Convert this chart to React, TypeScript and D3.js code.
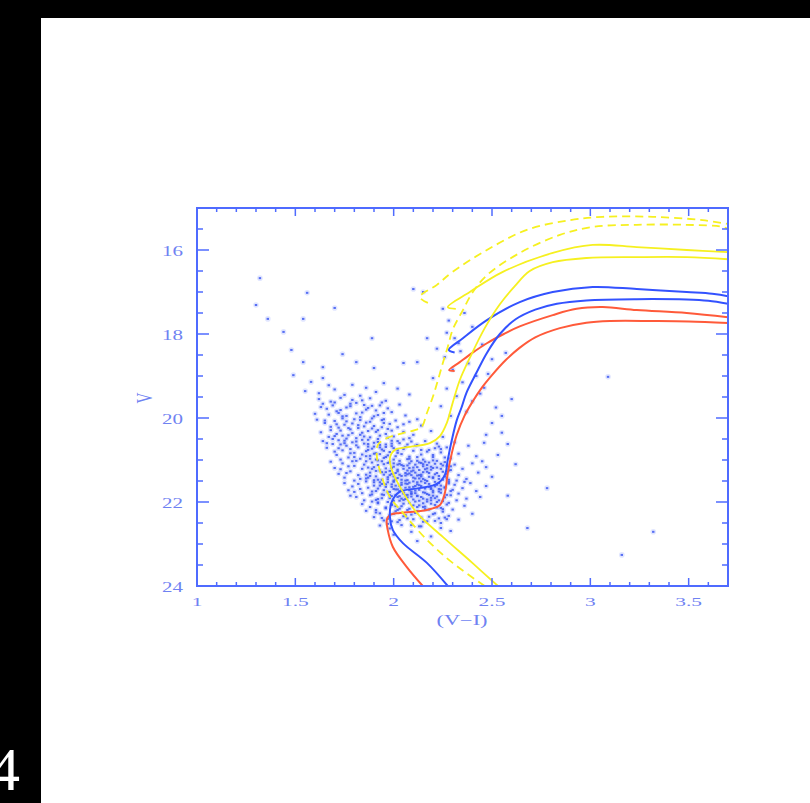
import React from "react";
import * as d3 from "d3";

type P = [number, number];

// ---- axis settings / tick labels ----
const X_DOMAIN: [number, number] = [1, 3.7];
const V_DOMAIN: [number, number] = [15, 24];
const X_LABELS = ["1", "1.5", "2", "2.5", "3", "3.5"];
const X_LABEL_VALUES = [1, 1.5, 2, 2.5, 3, 3.5];
const Y_LABELS = ["16", "18", "20", "22", "24"];
const Y_LABEL_VALUES = [16, 18, 20, 22, 24];
const X_TITLE = "(V\u2212I)";
const Y_TITLE = "V";

// ---- isochrones (V-I, V) ----
const redLower: P[] = [[2.148,24.0],[2.067,23.55],[1.996,23.07],[1.970,22.67],[1.965,22.43],[1.981,22.31],[2.032,22.26],[2.169,22.19],[2.235,22.07],[2.26,21.79],[2.275,21.31],[2.296,20.83],[2.321,20.40],[2.36,19.95],[2.40,19.62],[2.445,19.30],[2.50,18.98],[2.57,18.62],[2.64,18.33],[2.72,18.08],[2.845,17.86],[2.98,17.73],[3.10,17.69],[3.317,17.69],[3.50,17.70],[3.70,17.74]];
const redUpper: P[] = [[2.31,18.88],[2.282,18.86],[2.336,18.67],[2.40,18.45],[2.474,18.22],[2.56,18.0],[2.641,17.82],[2.809,17.55],[2.93,17.40],[3.063,17.36],[3.236,17.43],[3.49,17.50],[3.70,17.60]];
const blueLower: P[] = [[2.275,24.0],[2.169,23.45],[2.047,22.98],[1.996,22.67],[1.981,22.36],[1.99,22.0],[2.03,21.76],[2.13,21.67],[2.22,21.57],[2.26,21.36],[2.275,21.0],[2.296,20.52],[2.321,20.05],[2.345,19.75],[2.37,19.40],[2.42,18.93],[2.474,18.45],[2.54,18.0],[2.62,17.65],[2.72,17.42],[2.83,17.28],[2.98,17.20],[3.236,17.17],[3.49,17.18],[3.60,17.21],[3.70,17.28]];
const blueUpper: P[] = [[2.31,18.44],[2.28,18.38],[2.352,18.10],[2.474,17.67],[2.641,17.24],[2.809,17.0],[3.012,16.88],[3.236,16.93],[3.49,17.0],[3.62,17.04],[3.70,17.10]];
const yellowLower: P[] = [[2.53,24.0],[2.40,23.45],[2.25,22.83],[2.118,22.26],[2.032,21.64],[1.991,21.24],[1.981,20.95],[2.006,20.76],[2.082,20.69],[2.184,20.60],[2.235,20.43],[2.27,20.12],[2.30,19.64],[2.336,19.10],[2.387,18.57],[2.463,17.86],[2.54,17.29],[2.616,16.86],[2.692,16.50],[2.809,16.29],[2.98,16.19],[3.236,16.17],[3.49,16.17],[3.70,16.22]];
const yellowUpper: P[] = [[2.316,17.40],[2.275,17.36],[2.387,17.0],[2.555,16.52],[2.809,16.07],[3.012,15.88],[3.236,15.93],[3.49,16.0],[3.70,16.05]];
const yellowDashLower: P[] = [[2.463,24.0],[2.30,23.45],[2.169,22.90],[2.047,22.26],[1.981,21.88],[1.94,21.40],[1.915,20.93],[1.92,20.64],[1.965,20.48],[2.047,20.36],[2.108,20.29],[2.143,20.21],[2.169,19.88],[2.199,19.50],[2.225,19.10],[2.25,18.69],[2.275,18.31],[2.30,17.90],[2.352,17.43],[2.40,17.02],[2.474,16.60],[2.641,16.07],[2.845,15.64],[3.012,15.45],[3.236,15.40],[3.49,15.40],[3.673,15.45],[3.70,15.50]];
const yellowDashUpper: P[] = [[2.174,17.26],[2.133,17.12],[2.22,16.83],[2.30,16.52],[2.474,16.0],[2.677,15.52],[2.895,15.29],[3.063,15.21],[3.317,15.21],[3.571,15.29],[3.70,15.38]];

// ---- photometry (V-I, V) ----
const fieldStars: P[] = [[1.32,16.67],[1.56,17.02],[1.30,17.31],[1.36,17.64],[1.54,17.64],[1.70,17.38],[1.44,17.95],[1.89,18.10],[1.48,18.38],[1.74,18.48],[1.54,18.67],[1.81,18.67],[2.05,18.69],[1.90,18.81],[1.49,18.98],[1.64,18.79],[2.10,16.93],[2.12,18.67],[2.17,18.10],[2.15,17.00],[2.78,21.67],[2.68,22.62],[3.16,23.26],[3.32,22.71],[3.09,19.02],[2.62,21.10],[2.58,21.85],[2.53,20.88]];
const giantStars: P[] = [[2.28,17.68],[2.27,17.97],[2.36,17.50],[2.40,17.83],[2.31,18.10],[2.45,18.25],[2.34,18.41],[2.26,18.55],[2.38,18.70],[2.50,18.60],[2.30,18.85],[2.42,19.00],[2.35,19.15],[2.27,19.30],[2.46,19.28],[2.32,19.48],[2.40,19.60],[2.24,19.72],[2.37,19.85],[2.29,19.95],[2.52,19.75],[2.44,19.42],[2.20,19.05],[2.55,19.95],[2.33,18.22],[2.48,18.95],[2.22,18.35],[2.60,19.55],[2.25,17.40],[2.57,18.45],[2.55,20.35],[2.50,20.12],[2.58,20.62],[2.47,20.40]];
const bandV19: P[] = [[1.64,19.05],[1.58,19.14],[1.79,19.21],[1.95,19.17],[1.70,19.32],[1.86,19.28],[1.62,19.41],[1.75,19.45],[1.91,19.38],[2.02,19.30],[1.67,19.22],[1.83,19.47],[1.55,19.36],[2.08,19.44],[1.62,19.55],[1.68,19.61],[1.73,19.52],[1.78,19.66],[1.84,19.58],[1.89,19.71],[1.94,19.63],[1.66,19.78],[1.71,19.84],[1.76,19.75],[1.81,19.89],[1.86,19.80],[1.92,19.93],[1.97,19.77],[1.60,19.90],[1.74,19.96],[1.69,19.70],[1.83,19.98],[1.88,19.53],[1.99,19.86],[2.03,19.68],[1.79,19.57],[1.64,19.66],[1.91,19.82],[1.72,19.88],[1.85,19.69],[2.06,19.94],[1.96,19.59]];
const bandV20: P[] = [[1.61,20.04],[1.65,20.12],[1.68,20.21],[1.70,20.07],[1.73,20.30],[1.75,20.16],[1.77,20.41],[1.80,20.03],[1.82,20.24],[1.84,20.35],[1.86,20.11],[1.88,20.46],[1.90,20.19],[1.92,20.29],[1.94,20.05],[1.96,20.38],[1.98,20.14],[2.00,20.44],[2.02,20.22],[2.05,20.33],[2.08,20.09],[1.63,20.34],[1.67,20.45],[1.71,20.38],[1.74,20.01],[1.78,20.27],[1.81,20.48],[1.85,20.20],[1.89,20.01],[1.93,20.42],[1.97,20.26],[2.01,20.06],[2.10,20.40],[2.14,20.18],[1.79,20.13],[1.83,20.40],[1.87,20.31],[1.72,20.23],[1.76,20.49],[1.95,20.12],[2.19,20.31],[2.25,20.45],[2.12,20.03],
[1.64,20.55],[1.66,20.71],[1.69,20.62],[1.71,20.88],[1.72,20.53],[1.74,20.77],[1.76,20.66],[1.77,20.94],[1.79,20.58],[1.80,20.83],[1.82,20.70],[1.83,20.97],[1.85,20.61],[1.86,20.79],[1.87,20.52],[1.88,20.90],[1.90,20.68],[1.91,20.84],[1.92,20.57],[1.94,20.75],[1.95,20.95],[1.96,20.63],[1.98,20.81],[1.99,20.54],[2.00,20.72],[2.01,20.91],[2.03,20.60],[2.04,20.86],[2.06,20.69],[2.07,20.98],[2.09,20.56],[2.10,20.78],[1.73,20.99],[1.78,20.74],[1.81,20.56],[1.84,20.87],[1.89,20.73],[1.93,20.64],[1.97,20.89],[2.02,20.77],[2.05,20.51],[2.08,20.92],[1.70,20.80],[1.75,20.60],[1.87,20.68],[1.91,20.99],[1.99,20.67],[2.12,20.64],[2.14,20.87],[2.16,20.55],[2.18,20.76],[2.20,20.93],[2.22,20.61],[2.24,20.82],[2.27,20.70],[2.29,20.96],[2.31,20.58],[2.33,20.85],[2.15,20.99],[2.21,20.72],[2.38,20.66],[2.42,20.91],[2.46,20.59]];
const bandV21: P[] = [[1.68,21.04],[1.70,21.19],[1.72,21.33],[1.74,21.08],[1.75,21.42],[1.77,21.15],[1.78,21.27],[1.80,21.49],[1.81,21.02],[1.82,21.36],[1.84,21.21],[1.85,21.11],[1.86,21.44],[1.88,21.30],[1.89,21.06],[1.90,21.17],[1.91,21.39],[1.93,21.25],[1.94,21.47],[1.95,21.10],[1.76,21.31],[1.79,21.03],[1.83,21.45],[1.87,21.18],[1.92,21.01],[1.73,21.22],[1.86,21.35],[1.90,21.48],[1.94,21.29],[1.80,21.14],
[1.96,21.20],[1.97,21.41],[1.98,21.05],[1.99,21.33],[2.00,21.16],[2.01,21.46],[2.02,21.27],[2.03,21.09],[2.04,21.38],[2.05,21.21],[2.06,21.49],[2.07,21.13],[2.08,21.32],[2.09,21.03],[2.10,21.25],[2.11,21.44],[2.12,21.17],[2.13,21.36],[2.14,21.07],[2.15,21.29],[2.16,21.48],[2.17,21.12],[2.18,21.40],[2.19,21.23],[2.20,21.01],[2.21,21.34],[2.22,21.18],[2.23,21.45],[2.24,21.09],[2.25,21.28],[2.26,21.39],[2.27,21.14],[2.28,21.47],[2.29,21.24],[1.98,21.26],[2.00,21.39],[2.02,21.11],[2.04,21.47],[2.06,21.31],[2.08,21.19],[2.10,21.42],[2.12,21.02],[2.14,21.35],[2.16,21.22],[2.18,21.06],[2.20,21.43],[2.03,21.35],[2.07,21.25],[2.11,21.30],[2.15,21.15],
[2.31,21.11],[2.33,21.36],[2.35,21.21],[2.37,21.45],[2.40,21.08],[2.43,21.30],[2.47,21.17],[2.50,21.40],[2.32,21.49],[2.45,21.03]];
const bandV22: P[] = [[1.75,21.55],[1.77,21.72],[1.79,21.63],[1.81,21.88],[1.82,21.57],[1.84,21.79],[1.85,21.96],[1.87,21.66],[1.88,21.84],[1.90,21.53],[1.91,21.74],[1.92,21.93],[1.93,21.61],[1.94,21.82],[1.83,21.69],[1.86,21.51],[1.89,21.99],[1.78,21.85],[1.92,21.68],[1.80,21.76],
[1.96,21.58],[1.97,21.77],[1.98,21.91],[1.99,21.64],[2.00,21.52],[2.01,21.83],[2.02,21.70],[2.03,21.97],[2.04,21.59],[2.05,21.80],[2.06,21.66],[2.07,21.89],[2.08,21.54],[2.09,21.75],[2.10,21.94],[2.11,21.62],[2.12,21.85],[2.13,21.71],[2.14,21.51],[2.15,21.92],[2.16,21.68],[2.17,21.81],[2.18,21.57],[2.19,21.96],[2.20,21.73],[2.21,21.63],[2.22,21.87],[2.23,21.55],[2.24,21.78],[2.25,21.98],[2.26,21.65],[2.27,21.83],[2.28,21.52],[2.29,21.74],[1.97,21.53],[1.99,21.86],[2.01,21.61],[2.03,21.74],[2.05,21.95],[2.07,21.57],[2.09,21.87],[2.11,21.79],[2.13,21.60],[2.15,21.77],[2.17,21.99],[2.19,21.66],[2.21,21.91],[2.23,21.69],[2.00,21.69],[2.06,21.84],[2.12,21.53],[2.18,21.83],[2.24,21.61],[2.02,21.88],[2.08,21.72],
[2.31,21.59],[2.33,21.80],[2.35,21.67],[2.37,21.92],[2.39,21.55],[2.42,21.74],[2.44,21.88],[2.47,21.62],[2.32,21.96],[2.36,21.52]];
const bandV23: P[] = [[1.84,22.05],[1.86,22.21],[1.88,22.12],[1.90,22.36],[1.92,22.03],[1.93,22.27],[1.95,22.44],[1.96,22.15],[1.98,22.31],[1.99,22.07],[2.01,22.22],[2.02,22.48],[2.04,22.10],[2.05,22.34],[2.07,22.19],[2.08,22.02],[2.10,22.41],[2.11,22.26],[2.13,22.08],[2.14,22.37],[2.16,22.17],[2.17,22.46],[2.19,22.04],[2.20,22.29],[2.22,22.13],[2.23,22.39],[2.25,22.23],[2.27,22.06],[2.28,22.33],[2.30,22.18],[2.33,22.42],[2.36,22.09],[2.40,22.28],[1.91,22.19],[1.97,22.40],[2.03,22.16],[2.09,22.30],[2.15,22.12],[2.21,22.45],[2.26,22.37],
[1.93,22.56],[1.98,22.63],[2.04,22.55],[2.09,22.71],[2.14,22.58],[2.19,22.82],[2.24,22.62],[2.00,22.78],[2.29,22.69],[2.12,22.93]];
const coreStars: P[] = [[1.87,20.62],[1.93,20.70],[1.99,20.61],[2.05,20.74],[2.11,20.66],[2.17,20.80],[2.23,20.68],[1.90,20.85],[1.96,20.93],[2.02,20.83],[2.08,20.97],[2.14,20.76],[2.20,20.88],[2.26,20.94],[1.88,20.97],[2.00,20.99],[2.12,20.93],[2.24,20.74],[1.95,20.78],[2.07,20.63],
[1.86,21.03],[1.89,21.21],[1.92,21.12],[1.95,21.35],[1.97,21.07],[1.99,21.19],[2.01,21.31],[2.03,21.02],[2.05,21.14],[2.06,21.37],[2.08,21.08],[2.09,21.27],[2.11,21.11],[2.13,21.24],[2.14,21.39],[2.16,21.04],[2.17,21.28],[2.19,21.16],[2.21,21.09],[2.22,21.31],[2.24,21.21],[2.26,21.05],[2.27,21.33],[2.29,21.15],[1.88,21.38],[1.91,21.26],[1.94,21.03],[1.98,21.36],[2.02,21.23],[2.04,21.12],[2.07,21.34],[2.10,21.18],[2.12,21.37],[2.15,21.10],[2.18,21.31],[2.20,21.19],[2.23,21.38],[2.25,21.13],[2.28,21.25],[1.96,21.29],[2.00,21.08],[2.09,21.36],[2.13,21.06],[2.17,21.20],[2.22,21.02],
[1.87,21.42],[1.90,21.61],[1.93,21.53],[1.95,21.72],[1.97,21.46],[1.99,21.58],[2.01,21.70],[2.02,21.43],[2.04,21.54],[2.05,21.77],[2.07,21.48],[2.08,21.65],[2.10,21.51],[2.11,21.73],[2.13,21.44],[2.14,21.62],[2.16,21.78],[2.17,21.50],[2.19,21.69],[2.20,21.41],[2.22,21.59],[2.23,21.75],[2.25,21.47],[2.26,21.66],[2.28,21.56],[2.30,21.71],[1.89,21.75],[1.92,21.47],[1.96,21.64],[2.00,21.49],[2.03,21.62],[2.06,21.56],[2.09,21.79],[2.12,21.58],[2.15,21.45],[2.18,21.64],[2.21,21.52],[2.24,21.70],[2.27,21.43],[1.94,21.57],[1.98,21.76],[2.04,21.71],[2.10,21.64],[2.16,21.55],[2.20,21.77],
[1.89,21.82],[1.92,22.01],[1.94,21.91],[1.96,22.13],[1.98,21.84],[2.00,21.97],[2.01,22.10],[2.03,21.86],[2.05,22.04],[2.06,21.93],[2.08,22.16],[2.09,21.81],[2.11,21.99],[2.12,22.12],[2.14,21.88],[2.15,22.03],[2.17,21.94],[2.18,22.18],[2.20,21.85],[2.21,22.07],[2.23,21.96],[2.24,22.14],[2.26,21.89],[2.28,22.02],[2.29,21.84],[1.91,21.95],[1.95,21.83],[1.99,22.06],[2.02,22.19],[2.07,21.83],[2.10,22.08],[2.13,21.97],[2.16,22.11],[2.19,21.90],[2.22,22.00],[2.25,22.17],[1.97,22.00],[2.04,21.92],[2.12,21.86],
[1.91,22.25],[1.94,22.38],[1.97,22.52],[2.00,22.28],[2.03,22.43],[2.06,22.31],[2.09,22.55],[2.12,22.22],[2.15,22.47],[2.18,22.35],[2.21,22.27],[2.24,22.50],[2.27,22.41],[1.99,22.46],[2.07,22.39],[2.13,22.58]];
const plumeStars: P[] = [[1.63,19.74],[1.67,19.92],[1.70,19.63],[1.73,19.81],[1.76,19.95],[1.78,19.72],[1.81,19.64],[1.84,19.87],[1.87,19.76],[1.90,19.96],[1.93,19.70],[1.95,19.88],[1.65,20.06],[1.68,20.29],[1.71,20.15],[1.74,20.42],[1.76,20.08],[1.79,20.36],[1.82,20.17],[1.85,20.44],[1.88,20.09],[1.91,20.33],[1.94,20.22],[1.97,20.47],[1.66,20.60],[1.69,20.50],[1.72,20.72],[1.75,20.54],[1.78,20.84],[1.81,20.65],[1.84,20.52],[1.87,20.76],[1.90,20.59],[1.93,20.86],[1.96,20.69],[1.73,20.63],[1.80,20.93],[1.86,20.91],[1.70,20.43],[1.77,20.24],[1.83,20.05],[1.89,20.25],[1.92,20.50],[1.95,20.03],[1.99,20.30],[2.02,20.55],[2.05,20.15],[2.08,20.48]];

const AXIS = "#4f6bff";
const TEXT = "#6f82f2";
const FONT = "'Liberation Serif', 'Times New Roman', serif";

export default function App() {
  const x = d3.scaleLinear().domain(X_DOMAIN).range([197, 728]);
  const y = d3.scaleLinear().domain(V_DOMAIN).range([208, 586]);
  const line = d3
    .line<P>()
    .x((d) => x(d[0]))
    .y((d) => y(d[1]))
    .curve(d3.curveCatmullRom.alpha(0.5));

  const stars = [...fieldStars, ...giantStars, ...bandV19, ...bandV20, ...bandV21, ...bandV22, ...bandV23, ...coreStars, ...plumeStars];

  const xTicks = d3.range(11, 37).map((i) => ({ v: i / 10, major: i % 5 === 0 }));
  const yTicks = d3.range(31, 48).map((i) => ({ v: i / 2, major: i % 4 === 0 }));

  const [x0, x1] = x.range();
  const [y0, y1] = y.range();

  const curves: { d: P[]; c: string; w: number; dash?: string }[] = [
    { d: redLower, c: "#ff5a3a", w: 2 },
    { d: redUpper, c: "#ff5a3a", w: 2 },
    { d: blueLower, c: "#3352ff", w: 2 },
    { d: blueUpper, c: "#3352ff", w: 2 },
    { d: yellowLower, c: "#f6f020", w: 1.8 },
    { d: yellowUpper, c: "#f6f020", w: 1.8 },
    { d: yellowDashLower, c: "#f6f020", w: 1.8, dash: "8 5" },
    { d: yellowDashUpper, c: "#f6f020", w: 1.8, dash: "8 5" },
  ];

  return (
    <svg
      width={810}
      height={803}
      style={{ position: "fixed", left: 0, top: 0, display: "block" }}
    >
      <rect x={0} y={0} width={810} height={803} fill="#000" />
      <rect x={41} y={18} width={769} height={785} fill="#fff" />
      <text x={-11} y={790} fontSize={62} fill="#fff" fontFamily={FONT}>4</text>

      <defs>
        <clipPath id="plotClip">
          <rect x={x0} y={y0} width={x1 - x0} height={y1 - y0} />
        </clipPath>
      </defs>

      <g>
        {stars.map((s, i) => (
          <circle key={"h" + i} cx={x(s[0])} cy={y(s[1])} r={2.8} fill="#b4c0ff" opacity={0.4} />
        ))}
        {stars.map((s, i) => (
          <rect key={"s" + i} x={x(s[0]) - 1.2} y={y(s[1]) - 1} width={2.4} height={2} fill="#3d58f2" opacity={0.85} />
        ))}
      </g>

      <g clipPath="url(#plotClip)">
        {curves.map((c, i) => (
          <path
            key={i}
            d={line(c.d) || ""}
            fill="none"
            stroke={c.c}
            strokeWidth={c.w}
            strokeDasharray={c.dash}
            strokeLinejoin="round"
          />
        ))}
      </g>

      {/* frame */}
      <rect x={x0} y={y0} width={x1 - x0} height={y1 - y0} fill="none" stroke={AXIS} strokeWidth={2} />
      {xTicks.map((t, i) => {
        const len = t.major ? 8 : 4;
        const px = x(t.v);
        return (
          <g key={"xt" + i}>
            <line x1={px} x2={px} y1={y1} y2={y1 - len} stroke={AXIS} strokeWidth={1.5} />
            <line x1={px} x2={px} y1={y0} y2={y0 + len} stroke={AXIS} strokeWidth={1.5} />
          </g>
        );
      })}
      {yTicks.map((t, i) => {
        const len = t.major ? 12 : 6;
        const py = y(t.v);
        return (
          <g key={"yt" + i}>
            <line x1={x0} x2={x0 + len} y1={py} y2={py} stroke={AXIS} strokeWidth={1.5} />
            <line x1={x1} x2={x1 - len} y1={py} y2={py} stroke={AXIS} strokeWidth={1.5} />
          </g>
        );
      })}

      {X_LABELS.map((lab, i) => (
        <text
          key={"xl" + i}
          transform={`translate(${x(X_LABEL_VALUES[i])},606) scale(1.65,1)`}
          textAnchor="middle"
          fontSize={13}
          fill={TEXT}
          fontFamily={FONT}
        >
          {lab}
        </text>
      ))}
      {Y_LABELS.map((lab, i) => (
        <text
          key={"yl" + i}
          transform={`translate(183,${y(Y_LABEL_VALUES[i]) + 5.5}) scale(1.4,1)`}
          textAnchor="end"
          fontSize={15}
          fill={TEXT}
          fontFamily={FONT}
        >
          {lab}
        </text>
      ))}

      <text
        transform={`translate(462,625) scale(1.6,1)`}
        textAnchor="middle"
        fontSize={14}
        fill={TEXT}
        fontFamily={FONT}
      >
        {X_TITLE}
      </text>
      <text
        transform={`translate(152,398) scale(1.6,1) rotate(-90)`}
        textAnchor="middle"
        fontSize={15}
        fill={TEXT}
        fontFamily={FONT}
      >
        {Y_TITLE}
      </text>
    </svg>
  );
}
